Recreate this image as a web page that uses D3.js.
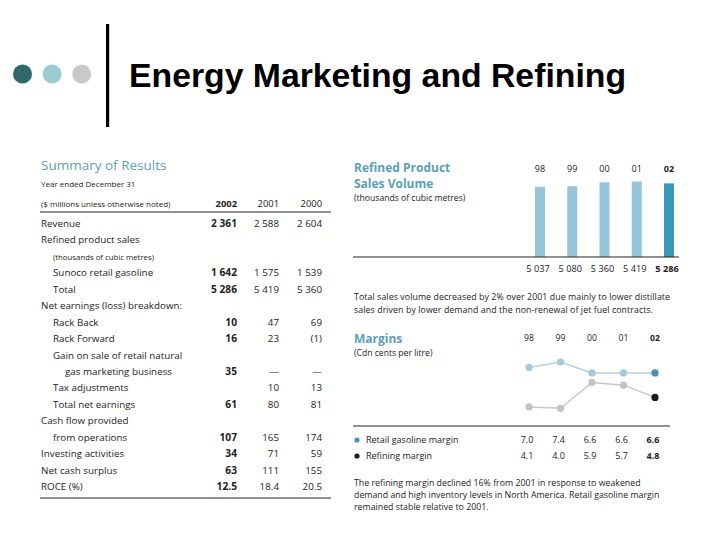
<!DOCTYPE html>
<html>
<head>
<meta charset="utf-8">
<script src="https://cdn.jsdelivr.net/npm/d3@7"></script>
<style>
  body { margin: 0; background: #fff; }
  svg { display: block; }
</style>
</head>
<body>
<div class="slide"></div>
<script>
// chart values
const years = ["98", "99", "00", "01", "02"];
const salesVolume = [5037, 5080, 5360, 5419, 5286];
const retailMargin = [7.0, 7.4, 6.6, 6.6, 6.6];
const refiningMargin = [4.1, 4.0, 5.9, 5.7, 4.8];

const tableYears = ["2002", "2001", "2000"];
const tableLabels = [
  ["Revenue", 0], ["Refined product sales", 0], ["(thousands of cubic metres)", 1],
  ["Sunoco retail gasoline", 1], ["Total", 1], ["Net earnings (loss) breakdown:", 0],
  ["Rack Back", 1], ["Rack Forward", 1], ["Gain on sale of retail natural", 1],
  ["gas marketing business", 2], ["Tax adjustments", 1], ["Total net earnings", 1],
  ["Cash flow provided", 0], ["from operations", 1], ["Investing activities", 0],
  ["Net cash surplus", 0], ["ROCE (%)", 0]
];
const tableValues = [
  ["2 361", "2 588", "2 604"], ["", "", ""], ["", "", ""],
  ["1 642", "1 575", "1 539"], ["5 286", "5 419", "5 360"], ["", "", ""],
  ["10", "47", "69"], ["16", "23", "(1)"], ["", "", ""],
  ["35", "—", "—"], ["", "10", "13"], ["61", "80", "81"],
  ["", "", ""], ["107", "165", "174"], ["34", "71", "59"],
  ["63", "111", "155"], ["12.5", "18.4", "20.5"]
];
const volumeLabels = ["5 037", "5 080", "5 360", "5 419", "5 286"];

const teal = "#5a9fb6";
const bodyFont = "'Open Sans', 'Noto Sans', sans-serif";

const svg = d3.select(".slide").append("svg")
  .attr("width", 720)
  .attr("height", 540);

// header: dots, bar and title
svg.selectAll("circle.dot")
  .data(["#2f6868", "#9accd0", "#c9c9c9"])
  .enter().append("circle")
  .attr("class", "dot")
  .attr("cx", (d, i) => 22.5 + i * 29.6)
  .attr("cy", 74)
  .attr("r", 9.5)
  .attr("fill", d => d);

svg.append("rect")
  .attr("x", 106).attr("y", 24)
  .attr("width", 3.2).attr("height", 103)
  .attr("fill", "#000");

svg.append("text")
  .attr("x", 129).attr("y", 87)
  .attr("font-family", "'Liberation Sans', Arial, sans-serif")
  .attr("font-weight", "bold")
  .attr("font-size", 34)
  .attr("textLength", 497)
  .attr("lengthAdjust", "spacingAndGlyphs")
  .text("Energy Marketing and Refining");

// ---------- Summary of Results table ----------
const tbl = svg.append("g").attr("font-family", bodyFont).attr("fill", "#222");

tbl.append("text").attr("x", 41).attr("y", 170)
  .attr("font-size", 13.5).attr("fill", teal)
  .text("Summary of Results");
tbl.append("text").attr("x", 41).attr("y", 187)
  .attr("font-size", 8).text("Year ended December 31");
tbl.append("text").attr("x", 41).attr("y", 207)
  .attr("font-size", 8).text("($ millions unless otherwise noted)");

const colX = [237, 279, 322];
tbl.selectAll("text.yr")
  .data(tableYears)
  .enter().append("text")
  .attr("class", "yr")
  .attr("x", (d, i) => colX[i])
  .attr("y", 207)
  .attr("text-anchor", "end")
  .attr("font-size", 9.4)
  .attr("font-weight", (d, i) => i === 0 ? "bold" : "normal")
  .text(d => d);

tbl.append("line").attr("x1", 40).attr("x2", 331)
  .attr("y1", 212).attr("y2", 212)
  .attr("stroke", "#222").attr("stroke-width", 1);

const rowY = d3.scaleLinear().domain([0, tableLabels.length - 1]).range([227, 490]);
const indentX = [41, 53, 65];

tbl.selectAll("text.lbl")
  .data(tableLabels)
  .enter().append("text")
  .attr("class", "lbl")
  .attr("x", d => indentX[d[1]])
  .attr("y", (d, i) => rowY(i))
  .attr("font-size", d => d[0].startsWith("(thousands") ? 7.8 : 9.8)
  .text(d => d[0]);

tableValues.forEach((row, r) => {
  row.forEach((v, c) => {
    if (!v) return;
    tbl.append("text")
      .attr("x", colX[c])
      .attr("y", rowY(r))
      .attr("text-anchor", "end")
      .attr("font-size", c === 0 ? 10.2 : 9.8)
      .attr("font-weight", c === 0 ? "bold" : "normal")
      .text(v);
  });
});

tbl.append("line").attr("x1", 40).attr("x2", 331)
  .attr("y1", 498).attr("y2", 498)
  .attr("stroke", "#222").attr("stroke-width", 1.2);

// ---------- Refined Product Sales Volume bars ----------
const bars = svg.append("g").attr("font-family", bodyFont);

bars.append("text").attr("x", 354).attr("y", 172)
  .attr("font-size", 12).attr("font-weight", "bold").attr("fill", teal)
  .text("Refined Product");
bars.append("text").attr("x", 354).attr("y", 187.5)
  .attr("font-size", 12).attr("font-weight", "bold").attr("fill", teal)
  .text("Sales Volume");
bars.append("text").attr("x", 354).attr("y", 201)
  .attr("font-size", 8.6).attr("fill", "#222")
  .text("(thousands of cubic metres)");

const xBar = d3.scalePoint().domain(years).range([540, 669]);
const yBar = d3.scaleLinear().domain([0, 5419]).range([257, 181.5]);

bars.selectAll("rect.bar")
  .data(salesVolume)
  .enter().append("rect")
  .attr("class", "bar")
  .attr("x", (d, i) => xBar(years[i]) - 5)
  .attr("y", d => yBar(d))
  .attr("width", 10)
  .attr("height", d => yBar(0) - yBar(d))
  .attr("fill", (d, i) => i === years.length - 1 ? "#3997b8" : "#96c5dc");

bars.selectAll("text.byr")
  .data(years)
  .enter().append("text")
  .attr("class", "byr")
  .attr("x", d => xBar(d))
  .attr("y", 172)
  .attr("text-anchor", "middle")
  .attr("font-size", 9)
  .attr("font-weight", (d, i) => i === years.length - 1 ? "bold" : "normal")
  .attr("fill", "#222")
  .text(d => d);

bars.append("line").attr("x1", 353).attr("x2", 679)
  .attr("y1", yBar(0)).attr("y2", yBar(0))
  .attr("stroke", "#222").attr("stroke-width", 1);

bars.selectAll("text.bval")
  .data(volumeLabels)
  .enter().append("text")
  .attr("class", "bval")
  .attr("x", (d, i) => xBar(years[i]) - 2)
  .attr("y", 272)
  .attr("text-anchor", "middle")
  .attr("font-size", 9.2)
  .attr("font-weight", (d, i) => i === years.length - 1 ? "bold" : "normal")
  .attr("fill", "#222")
  .text(d => d);

const note1 = ["Total sales volume decreased by 2% over 2001 due mainly to lower distillate",
               "sales driven by lower demand and the non-renewal of jet fuel contracts."];
bars.selectAll("text.note")
  .data(note1)
  .enter().append("text")
  .attr("x", 354)
  .attr("y", (d, i) => 300 + i * 12.5)
  .attr("font-size", 8.8)
  .attr("fill", "#222")
  .attr("textLength", (d, i) => i === 0 ? 316 : 299)
  .text(d => d);

// ---------- Margins line chart ----------
const mg = svg.append("g").attr("font-family", bodyFont);

mg.append("text").attr("x", 354).attr("y", 343)
  .attr("font-size", 12).attr("font-weight", "bold").attr("fill", teal)
  .text("Margins");
mg.append("text").attr("x", 354).attr("y", 356)
  .attr("font-size", 8.6).attr("fill", "#222")
  .text("(Cdn cents per litre)");

const xM = d3.scalePoint().domain(years).range([529, 655]);
const yM = d3.scaleLinear().domain([4.0, 7.4]).range([408.3, 362]);

mg.selectAll("text.myr")
  .data(years)
  .enter().append("text")
  .attr("x", d => xM(d))
  .attr("y", 341)
  .attr("text-anchor", "middle")
  .attr("font-size", 8.6)
  .attr("font-weight", (d, i) => i === years.length - 1 ? "bold" : "normal")
  .attr("fill", "#222")
  .text(d => d);

const series = [
  { vals: retailMargin, line: "#aed2e2", dot: "#a2cbdf", last: "#3f95b3" },
  { vals: refiningMargin, line: "#c8c8c8", dot: "#c2c2c2", last: "#1c1c1c" }
];
const lineGen = d3.line().x((d, i) => xM(years[i])).y(d => yM(d));

series.forEach(s => {
  mg.append("path")
    .attr("d", lineGen(s.vals))
    .attr("fill", "none")
    .attr("stroke", s.line)
    .attr("stroke-width", 1.5);
  mg.selectAll(null)
    .data(s.vals)
    .enter().append("circle")
    .attr("cx", (d, i) => xM(years[i]))
    .attr("cy", d => yM(d))
    .attr("r", 3.6)
    .attr("fill", (d, i) => i === years.length - 1 ? s.last : s.dot);
});

mg.append("line").attr("x1", 353).attr("x2", 670)
  .attr("y1", 426).attr("y2", 426)
  .attr("stroke", "#222").attr("stroke-width", 1);

const legendNames = ["Retail gasoline margin", "Refining margin"];
legendNames.forEach((name, r) => {
  const y = 443 + r * 16;
  mg.append("circle").attr("cx", 357).attr("cy", y - 3).attr("r", 2.6)
    .attr("fill", series[r].last);
  mg.append("text").attr("x", 366).attr("y", y)
    .attr("font-size", 9).attr("fill", "#222").text(name);
  mg.selectAll(null)
    .data(series[r].vals)
    .enter().append("text")
    .attr("x", (d, i) => xM(years[i]) - 2)
    .attr("y", y)
    .attr("text-anchor", "middle")
    .attr("font-size", 9)
    .attr("font-weight", (d, i) => i === years.length - 1 ? "bold" : "normal")
    .attr("fill", "#222")
    .text(d => d.toFixed(1));
});

const note2 = ["The refining margin declined 16% from 2001 in response to weakened",
               "demand and high inventory levels in North America. Retail gasoline margin",
               "remained stable relative to 2001."];
mg.selectAll("text.note2")
  .data(note2)
  .enter().append("text")
  .attr("x", 354)
  .attr("y", (d, i) => 486 + i * 12)
  .attr("font-size", 8.8)
  .attr("fill", "#222")
  .text(d => d);
</script>
</body>
</html>
